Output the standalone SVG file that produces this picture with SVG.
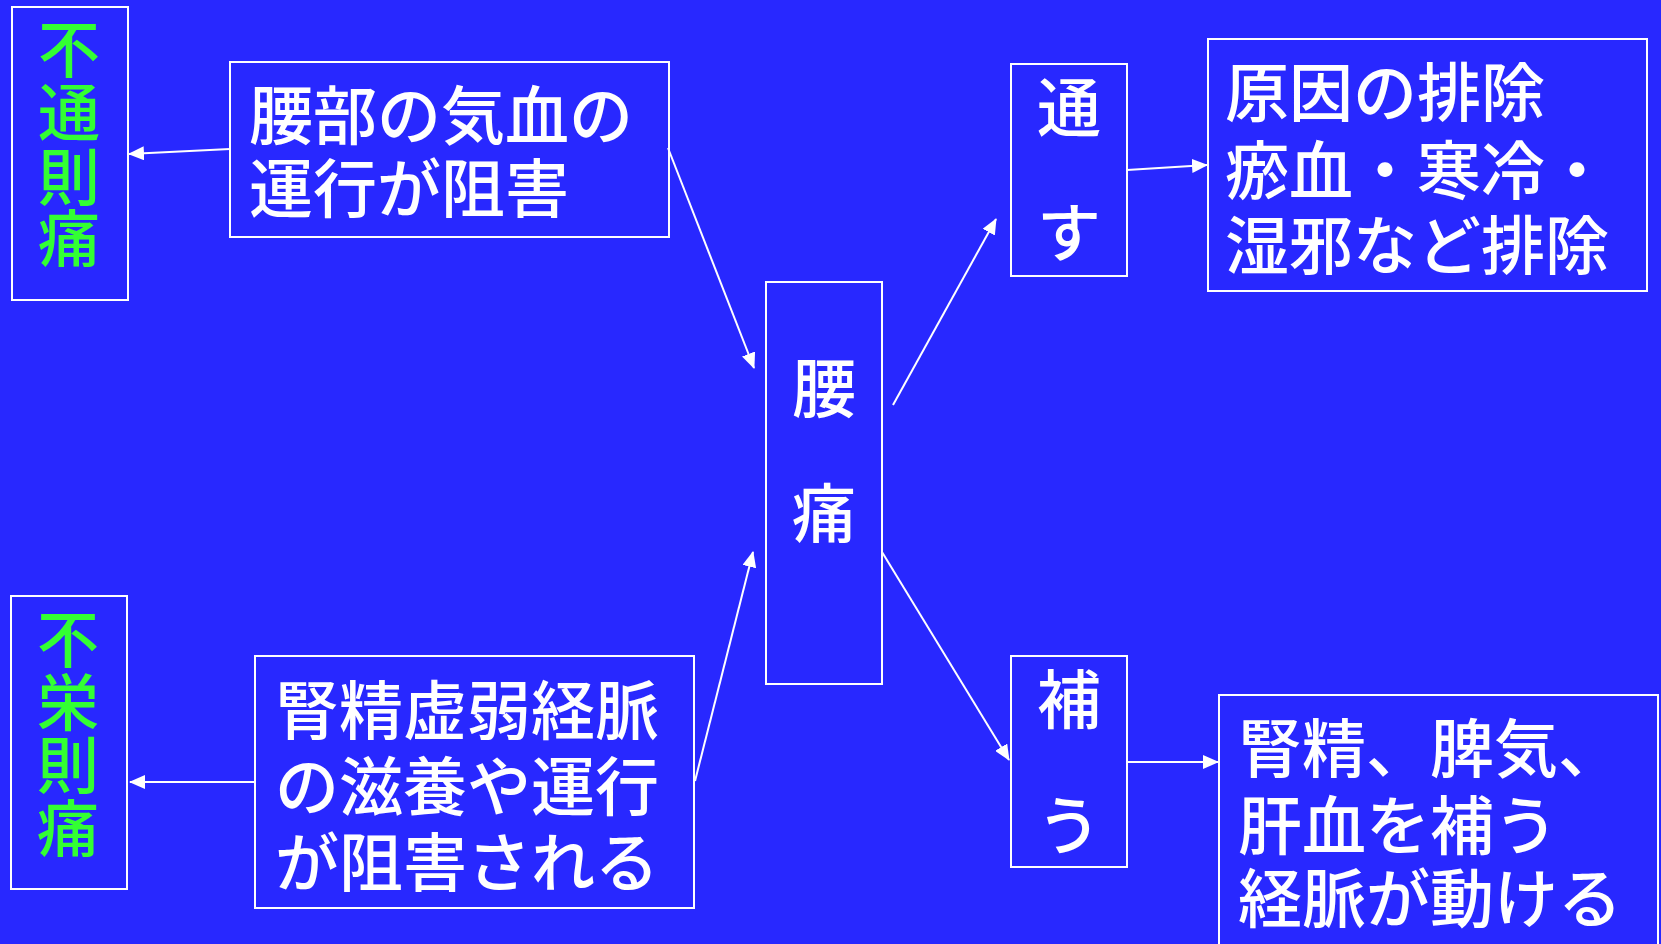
<svg xmlns="http://www.w3.org/2000/svg" width="1661" height="944" viewBox="0 0 1661 944">
<style>
.box{fill:none;stroke:#ffffff;stroke-width:2}
.t{font-family:"Noto Sans CJK JP","Noto Sans CJK SC",sans-serif;font-size:64px;font-weight:500;fill:#ffffff}
.g{font-family:"Noto Sans CJK JP","Noto Sans CJK SC",sans-serif;font-size:62px;font-weight:500;fill:#33ff33;text-anchor:middle}
.c{text-anchor:middle}
.ln{stroke:#ffffff;stroke-width:2;fill:none;marker-end:url(#ah)}
</style>
<defs>
<marker id="ah" markerUnits="userSpaceOnUse" markerWidth="16" markerHeight="14" refX="15" refY="7" orient="auto">
<path d="M0,0 L16,7 L0,14 Z" fill="#ffffff"/>
</marker>
</defs>
<rect width="1661" height="944" fill="#2828ff"/>
<g id="futsu">
<rect class="box" x="12" y="7" width="116" height="293"/>
<text class="g" x="69" y="73">不</text>
<text class="g" x="69" y="136">通</text>
<text class="g" x="69" y="201">則</text>
<text class="g" x="69" y="262">痛</text>
</g>
<g id="fuei">
<rect class="box" x="11" y="596" width="116" height="293"/>
<text class="g" x="68" y="663">不</text>
<text class="g" x="68" y="726">栄</text>
<text class="g" x="68" y="789">則</text>
<text class="g" x="68" y="852">痛</text>
</g>
<g id="kiketsu">
<rect class="box" x="230" y="62" width="439" height="175"/>
<text class="t" x="249" y="139">腰部の気血の</text>
<text class="t" x="249" y="212">運行が阻害</text>
</g>
<g id="jinsei">
<rect class="box" x="255" y="656" width="439" height="252"/>
<text class="t" x="275" y="734">腎精虚弱経脈</text>
<text class="t" x="275" y="810">の滋養や運行</text>
<text class="t" x="275" y="886">が阻害される</text>
</g>
<g id="yotsu">
<rect class="box" x="766" y="282" width="116" height="402"/>
<text class="t c" x="824" y="412">腰</text>
<text class="t c" x="824" y="537">痛</text>
</g>
<g id="tosu">
<rect class="box" x="1011" y="64" width="116" height="212"/>
<text class="t c" x="1069" y="131">通</text>
<text class="t c" x="1069" y="256">す</text>
</g>
<g id="genin">
<rect class="box" x="1208" y="39" width="439" height="252"/>
<text class="t" x="1225" y="116">原因の排除</text>
<text class="t" x="1225" y="194">瘀血・寒冷・</text>
<text class="t" x="1225" y="269">湿邪など排除</text>
</g>
<g id="oginau">
<rect class="box" x="1011" y="656" width="116" height="211"/>
<text class="t c" x="1069" y="723">補</text>
<text class="t c" x="1069" y="849">う</text>
</g>
<g id="hosei">
<rect class="box" x="1219" y="695" width="439" height="270"/>
<text class="t" x="1238" y="772">腎精、脾気、</text>
<text class="t" x="1238" y="849">肝血を補う</text>
<text class="t" x="1238" y="922">経脈が動ける</text>
</g>
<g id="connectors">
<line class="ln" x1="230" y1="149" x2="129" y2="154"/>
<line class="ln" x1="255" y1="782" x2="130" y2="782"/>
<line class="ln" x1="668" y1="148" x2="754" y2="368"/>
<line class="ln" x1="695" y1="781" x2="753" y2="552"/>
<line class="ln" x1="893" y1="405" x2="996" y2="219"/>
<line class="ln" x1="882" y1="552" x2="1009" y2="760"/>
<line class="ln" x1="1127" y1="170" x2="1207" y2="165"/>
<line class="ln" x1="1127" y1="762" x2="1218" y2="762"/>
</g>
</svg>
